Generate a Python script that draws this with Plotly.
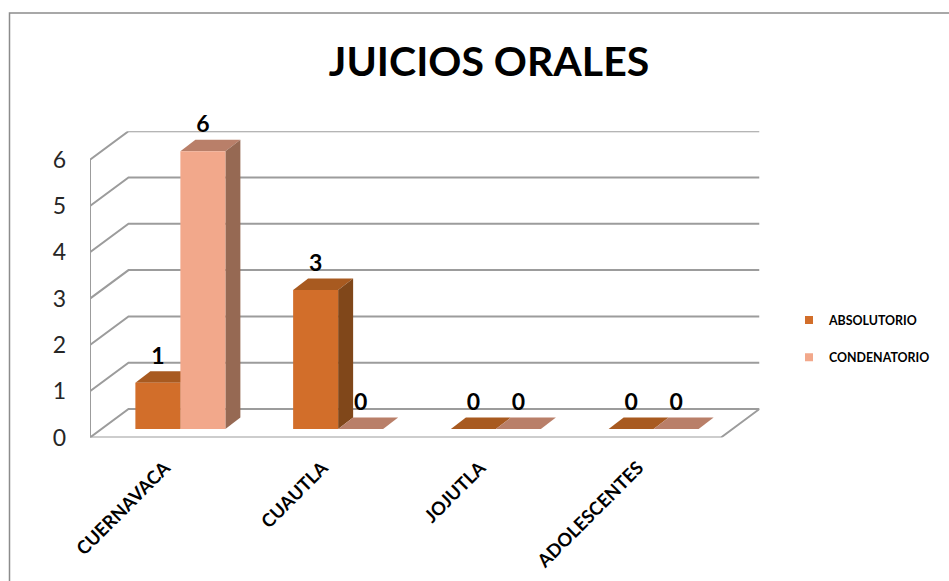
import plotly.graph_objects as go

TITLE = "JUICIOS ORALES"
categories = ["CUERNAVACA", "CUAUTLA", "JOJUTLA", "ADOLESCENTES"]
absolutorio = [1, 3, 0, 0]
condenatorio = [6, 0, 0, 0]
y_ticks = [0, 1, 2, 3, 4, 5, 6]

W, H = 949, 581
SLOT_PX, UNIT_PX = 157.75, 46.3
X0_PX, Y0_PX = 90, 437.5
WALL_DX, WALL_DY = 38.5 / SLOT_PX, 28.5 / UNIT_PX
BAR_DX, BAR_DY = 15 / SLOT_PX, 11.5 / UNIT_PX
BAR_BASE = 8.5 / UNIT_PX
BAR_SHIFT = 11.5 / SLOT_PX
BAR_W = 45 / SLOT_PX
LABEL_RAISE = 1.5 / UNIT_PX
TICK_SHIFT = 4 / SLOT_PX
GRID = "#9c9c9c"

x_range = [-0.5, len(categories) - 0.5 + WALL_DX]
y_range = [0, y_ticks[-1] + WALL_DY]
x_end_px = X0_PX + (x_range[1] - x_range[0]) * SLOT_PX
y_end_px = Y0_PX - y_range[1] * UNIT_PX

fig = go.Figure()

# walls and floor
wx, wy = [], []
xl, xr = x_range[0], len(categories) - 0.5
for v in y_ticks:
    wx += [xl, xl + WALL_DX, xr + WALL_DX, None]
    wy += [v, v + WALL_DY, v + WALL_DY, None]
wx += [xl, xl, None, xl, xr, xr + WALL_DX]
wy += [y_ticks[-1], 0, None, 0, 0, WALL_DY]
fig.add_trace(go.Scatter(x=wx, y=wy, mode="lines", line=dict(color=GRID, width=2),
                         showlegend=False, hoverinfo="skip"))

series = [
    ("ABSOLUTORIO", absolutorio, -1, "#D26E2A", "#A85A20", "#80471A"),
    ("CONDENATORIO", condenatorio, 0, "#F2A88B", "#B97F69", "#966953"),
]
# side and top faces
for name, vals, off, front, top, side in series:
    for i, v in enumerate(vals):
        l = i + BAR_SHIFT + off * BAR_W
        r = l + BAR_W
        y1 = BAR_BASE + v
        fig.add_trace(go.Scatter(
            x=[l, r, r + BAR_DX, l + BAR_DX, l],
            y=[y1, y1, y1 + BAR_DY, y1 + BAR_DY, y1],
            mode="lines", fill="toself", fillcolor=top, line=dict(width=0),
            showlegend=False, hoverinfo="skip"))
        if v > 0:
            fig.add_trace(go.Scatter(
                x=[r, r + BAR_DX, r + BAR_DX, r, r],
                y=[BAR_BASE, BAR_BASE + BAR_DY, y1 + BAR_DY, y1, BAR_BASE],
                mode="lines", fill="toself", fillcolor=side, line=dict(width=0),
                showlegend=False, hoverinfo="skip"))

# front faces, on an overlay so they cover the tops behind them
xs = [i + BAR_SHIFT for i in range(len(categories))]
for name, vals, off, front, top, side in series:
    fig.add_trace(go.Bar(x=xs, y=vals, base=BAR_BASE, name=name, marker=dict(color=front, line=dict(width=0)),
                         xaxis="x2", yaxis="y2", showlegend=False))

# value labels
for name, vals, off, front, top, side in series:
    lx = [i + BAR_SHIFT + (off + 0.5) * BAR_W for i in range(len(vals))]
    ly = [BAR_BASE + v + BAR_DY + LABEL_RAISE for v in vals]
    fig.add_trace(go.Scatter(x=lx, y=ly, mode="text", text=[str(v) for v in vals],
                             textposition="top center", cliponaxis=False,
                             textfont=dict(family="Lato", size=23, color="#000000", weight="bold"),
                             xaxis="x2", yaxis="y2", showlegend=False, hoverinfo="skip"))

# legend keys
for k, (name, vals, off, front, top, side) in enumerate(series):
    fig.add_trace(go.Scatter(x=[None], y=[None], mode="markers", name=name, legendgroup=name,
                             marker=dict(symbol="square", size=8, color=front)))

dom_x = [X0_PX / W, x_end_px / W]
dom_y = [1 - Y0_PX / H, 1 - y_end_px / H]
fig.update_layout(
    width=W, height=H, margin=dict(l=0, r=0, t=0, b=0, autoexpand=False),
    paper_bgcolor="white", plot_bgcolor="white",
    font=dict(family="Lato", color="#000000"),
    title=dict(text=TITLE, x=489 / W, xanchor="center", y=1 - 62 / H, yanchor="middle",
               font=dict(family="Lato", size=41, color="#000000", weight="bold")),
    barmode="group", bargap=1 - 2 * BAR_W, bargroupgap=0,
    showlegend=True,
    legend=dict(x=789 / W, y=1 - 339 / H, xanchor="left", yanchor="middle", traceorder="grouped",
                tracegroupgap=18, itemsizing="trace", bgcolor="rgba(0,0,0,0)",
                font=dict(family="Lato", size=12.4, color="#000000", weight="bold")),
    xaxis=dict(domain=dom_x, range=x_range, tickmode="array",
               tickvals=[i - TICK_SHIFT for i in range(len(categories))],
               ticktext=categories, tickangle=-45, showgrid=False, zeroline=False, showline=False,
               automargin=False, ticks="", ticklabelstandoff=15,
               tickfont=dict(family="Lato", size=18.4, color="#000000", weight="bold")),
    yaxis=dict(domain=dom_y, range=y_range, tickmode="array", tickvals=y_ticks, showgrid=False,
               zeroline=False, showline=False, automargin=False, ticks="", ticklabelstandoff=23,
               tickfont=dict(family="Lato", size=23, color="#262626")),
    xaxis2=dict(domain=dom_x, range=x_range, overlaying="x", visible=False),
    yaxis2=dict(domain=dom_y, range=y_range, overlaying="y", visible=False),
    shapes=[dict(type="path", xref="paper", yref="paper",
                 path=f"M {9.5/W} 0 L {9.5/W} {1-13/H} L 1 {1-13/H}",
                 line=dict(color="#8c8c8c", width=1.5))],
)
fig.write_html("out.html", post_script="document.body.style.margin='0';",
               config=dict(displayModeBar=False))
